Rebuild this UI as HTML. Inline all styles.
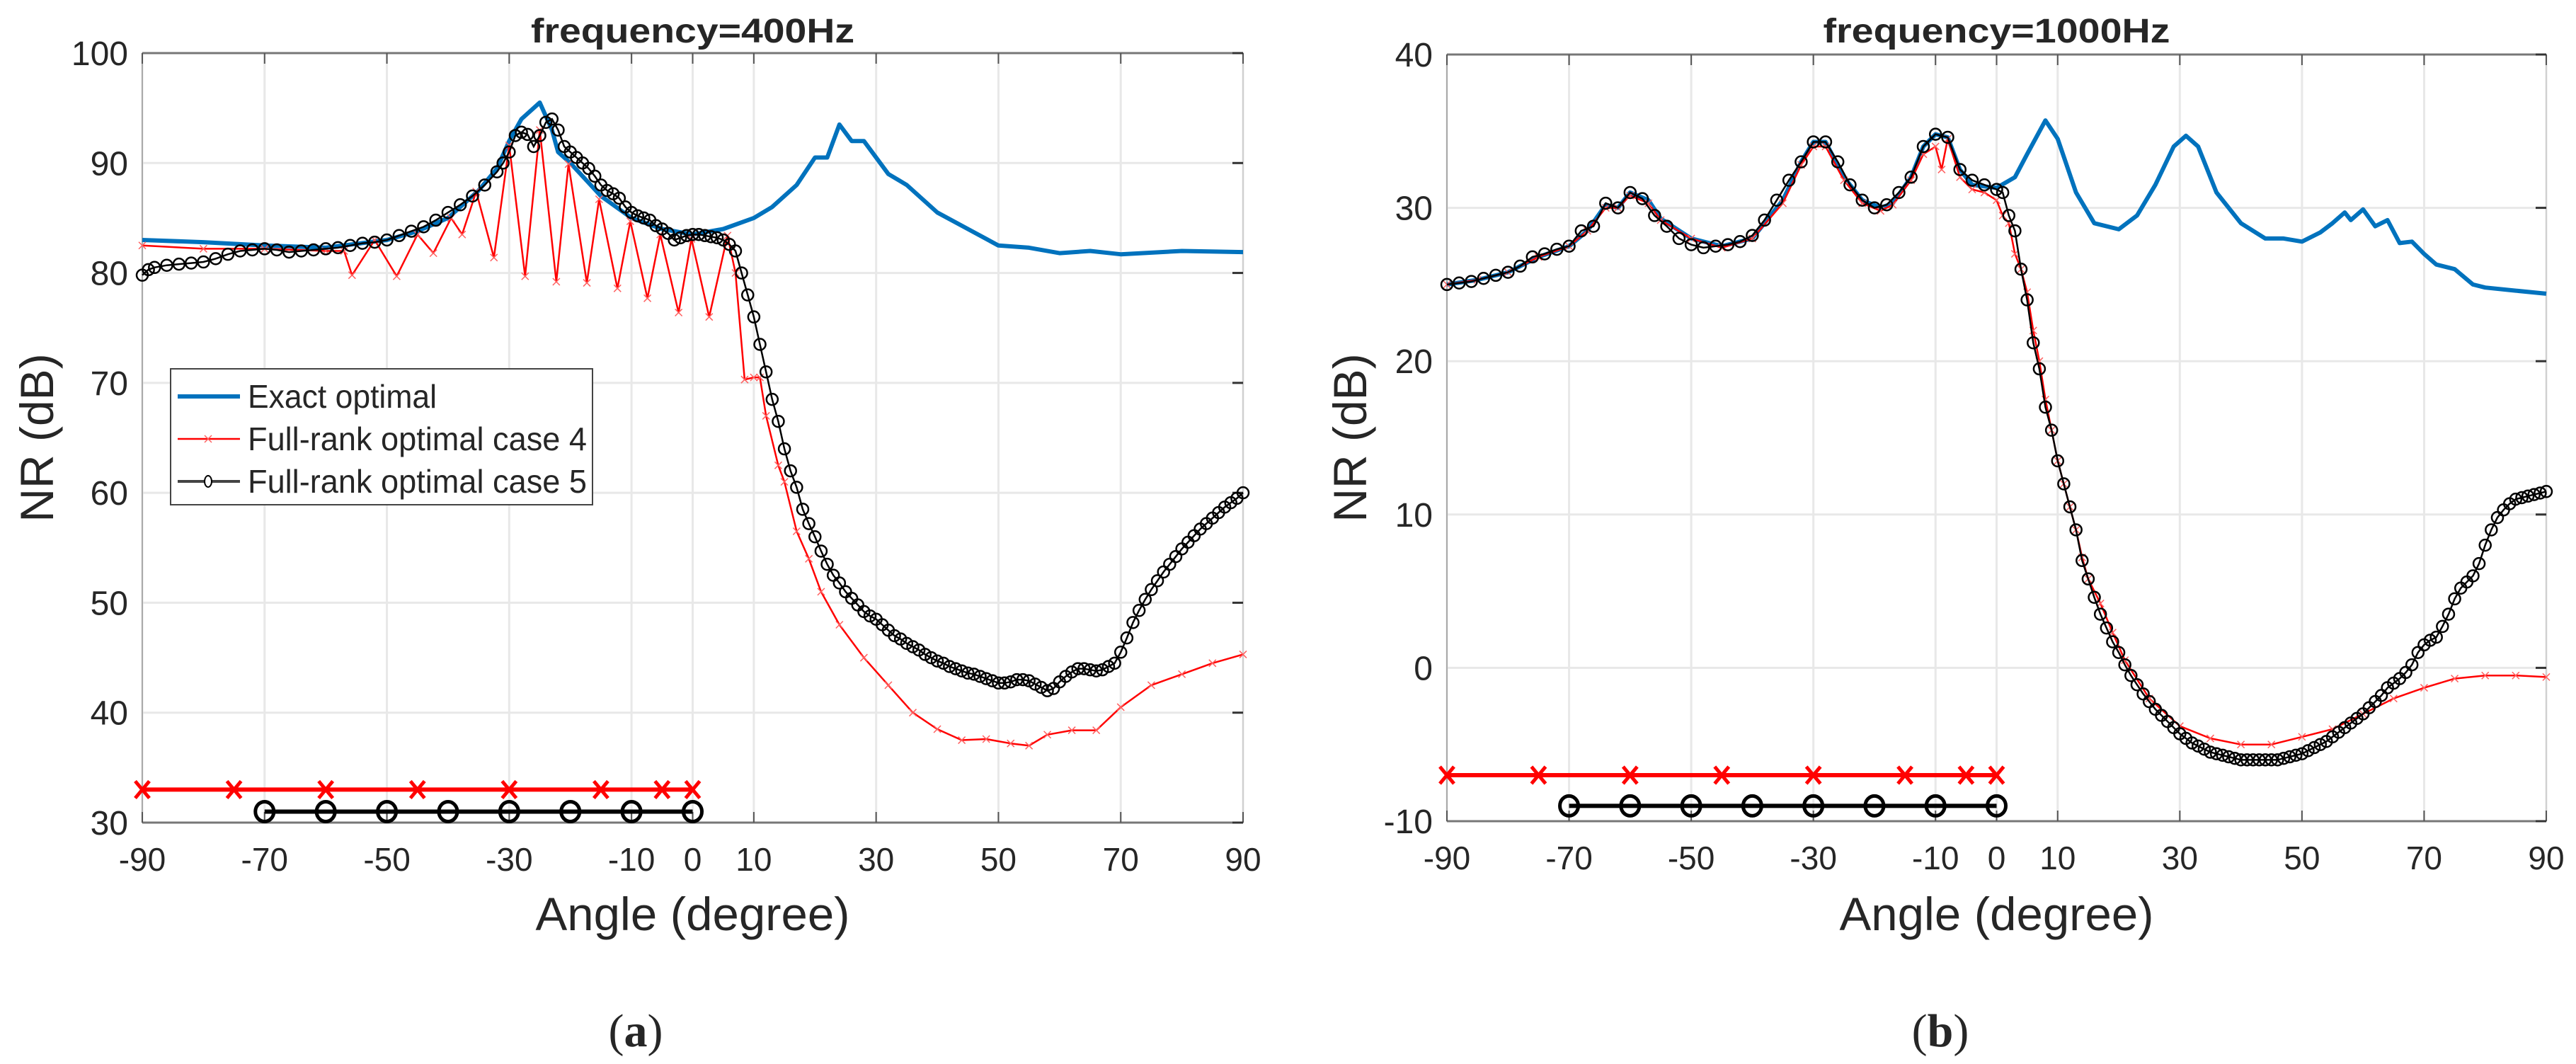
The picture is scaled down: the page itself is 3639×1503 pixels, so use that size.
<!DOCTYPE html>
<html><head><meta charset="utf-8">
<style>
html,body{margin:0;padding:0;background:#fff;}
svg{display:block;}
text{font-family:"Liberation Sans",Arial,sans-serif;fill:#262626;}
</style></head>
<body>
<svg id="fig" width="3639" height="1503" viewBox="0 0 3639 1503" xmlns="http://www.w3.org/2000/svg"></svg>
<script>
const xTicks = [-90,-70,-50,-30,-10,0,10,30,50,70,90];
const yTicksA = [30,40,50,60,70,80,90,100];
const yTicksB = [-10,0,10,20,30,40];

const blueA_x = [-90,-80,-70,-60,-50,-45,-40,-35,-32,-30,-28,-25,-23,-22,-20,-15,-10,-5,0,5,10,13,17,20,22,24,26,28,32,35,40,45,50,55,60,65,70,80,90];
const blueA_y = [83,82.8,82.5,82.3,83,83.8,85,87.5,89.5,92,94,95.5,93,91,90,87,85,84,83.5,84,85,86,88,90.5,90.5,93.5,92,92,89,88,85.5,84,82.5,82.3,81.8,82,81.7,82,81.9];

const redA_x = [-90,-80,-70,-60,-57,-55.7,-52,-48.4,-45,-42.4,-39.5,-37.7,-35.4,-32.5,-30,-27.4,-25,-22.3,-20.3,-17.3,-15.3,-12.3,-10.2,-7.4,-5.3,-2.3,-0.2,2.7,5.7,7,8.5,10,11,12,14,15,17,19,21,24,28,32,36,40,44,48,52,55,58,62,66,70,75,80,85,90];
const redA_y = [82.5,82.2,82.2,82,82,79.8,83,79.7,83.5,81.8,85,83.5,87.4,81.4,91.6,79.7,93,79.2,89.9,79.1,86.7,78.6,84.7,77.7,83.5,76.4,83.1,76,83.4,80,70.3,70.5,70.5,67,62.5,61,56.5,54,51,48,45,42.5,40,38.5,37.5,37.6,37.2,37,38,38.4,38.4,40.5,42.5,43.5,44.5,45.3];

const blackA_x = [-90,-89,-88,-86,-84,-82,-80,-78,-76,-74,-72,-70,-68,-66,-64,-62,-60,-58,-56,-54,-52,-50,-48,-46,-44,-42,-40,-38,-36,-34,-32,-31,-30,-29,-28,-27,-26,-25,-24,-23,-22,-21,-20,-19,-18,-17,-16,-15,-14,-13,-12,-11,-10,-9,-8,-7,-6,-5,-4,-3,-2,-1,0,1,2,3,4,5,6,7,8,9,10,11,12,13,14,15,16,17,18,19,20,21,22,23,24,25,26,27,28,29,30,31,32,33,34,35,36,37,38,39,40,41,42,43,44,45,46,47,48,49,50,51,52,53,54,55,56,57,58,59,60,61,62,63,64,65,66,67,68,69,70,71,72,73,74,75,76,77,78,79,80,81,82,83,84,85,86,87,88,89,90];
const blackA_y = [79.8,80.3,80.5,80.7,80.8,80.9,81,81.3,81.7,82,82.1,82.2,82.1,81.9,82,82.1,82.2,82.3,82.5,82.7,82.8,83,83.4,83.8,84.2,84.8,85.5,86.2,87,88,89.2,90,91,92.5,92.8,92.6,91.5,92.5,93.7,94,93,91.5,91,90.5,90,89.5,88.8,88,87.5,87.2,86.8,86,85.5,85.2,85,84.8,84.3,84,83.6,83,83.2,83.4,83.5,83.5,83.4,83.3,83.2,83,82.6,82,80,78,76,73.5,71,68.5,66.5,64,62,60.5,58.5,57.2,56,54.7,53.5,52.5,51.8,51,50.4,49.8,49.2,48.8,48.5,48,47.5,47,46.7,46.3,46,45.7,45.3,45,44.7,44.5,44.2,44,43.8,43.6,43.5,43.3,43.1,42.9,42.7,42.7,42.8,43,43,42.9,42.6,42.3,42,42.2,42.8,43.3,43.7,44,44,43.9,43.8,43.9,44.2,44.5,45.5,46.8,48.2,49.3,50.3,51.2,52,52.8,53.5,54.2,54.9,55.5,56.1,56.7,57.2,57.7,58.2,58.7,59.1,59.5,60];

const blueB_x = [-90,-85,-80,-75,-70,-67,-64,-62,-60,-57,-55,-50,-45,-40,-35,-32,-30,-28,-25,-22,-19,-17,-14,-12,-10,-8,-6,-4,0,3,5,8,10,13,16,20,23,26,29,31,33,36,40,44,47,50,53,55,57,58,60,62,64,66,68,70,72,75,78,80,85,90];
const blueB_y = [25,25.3,25.8,26.8,27.5,28.5,30.2,30,31,30.5,29.3,28,27.5,28,30.5,33,34.3,34.3,32,30.5,30,30.3,32,34,34.8,34.6,32.5,31.5,31.3,32,33.5,35.7,34.5,31,29,28.6,29.5,31.5,34,34.7,34,31,29,28,28,27.8,28.4,29,29.7,29.2,29.9,28.8,29.2,27.7,27.8,27,26.3,26,25,24.8,24.6,24.4];

const redB_x = [-90,-85,-80,-75,-70,-67,-64,-62,-60,-57,-55,-50,-45,-40,-35,-32,-30,-28,-25,-22,-19,-17,-14,-12,-10,-9,-8,-6,-4,-2,0,1,2,3,4,5,6,7,8,9,10,11,12,13,14,15,17,19,21,25,30,35,40,45,50,55,60,65,70,75,80,85,90];
const redB_y = [25,25.3,25.8,26.8,27.5,28.5,30,30,30.8,30.3,29.2,28,27.4,28,30.3,32.8,34,34,31.8,30.3,29.8,30.2,31.8,33.5,34,32.5,34.5,32,31.2,31,30.5,29.5,29,27,26,24.5,22,20,17.5,15.5,13.5,12,10.5,9,7.2,5.8,4.2,2.3,0.5,-2,-3.8,-4.6,-5,-5,-4.5,-4,-3,-2,-1.3,-0.7,-0.5,-0.5,-0.6];

const blackB_x = [-90,-88,-86,-84,-82,-80,-78,-76,-74,-72,-70,-68,-66,-64,-62,-60,-58,-56,-54,-52,-50,-48,-46,-44,-42,-40,-38,-36,-34,-32,-30,-28,-26,-24,-22,-20,-18,-16,-14,-12,-10,-8,-6,-4,-2,0,1,2,3,4,5,6,7,8,9,10,11,12,13,14,15,16,17,18,19,20,21,22,23,24,25,26,27,28,29,30,31,32,33,34,35,36,37,38,39,40,41,42,43,44,45,46,47,48,49,50,51,52,53,54,55,56,57,58,59,60,61,62,63,64,65,66,67,68,69,70,71,72,73,74,75,76,77,78,79,80,81,82,83,84,85,86,87,88,89,90];
const blackB_y = [25,25.1,25.2,25.4,25.6,25.8,26.2,26.8,27,27.3,27.5,28.5,28.8,30.3,30,31,30.6,29.5,28.8,28,27.6,27.4,27.5,27.6,27.8,28.2,29.2,30.5,31.8,33,34.3,34.3,33,31.5,30.5,30,30.2,31,32,34,34.8,34.6,32.5,31.8,31.5,31.2,31,29.5,28.5,26,24,21.2,19.5,17,15.5,13.5,12,10.5,9,7,5.8,4.6,3.5,2.6,1.7,1,0.2,-0.5,-1.1,-1.7,-2.2,-2.7,-3.1,-3.5,-3.9,-4.3,-4.6,-4.9,-5.1,-5.3,-5.5,-5.6,-5.7,-5.8,-5.9,-6,-6,-6,-6,-6,-6,-6,-5.9,-5.8,-5.7,-5.6,-5.4,-5.2,-5,-4.8,-4.5,-4.2,-3.9,-3.6,-3.3,-3,-2.6,-2.2,-1.8,-1.3,-1,-0.7,-0.3,0.2,1,1.5,1.8,2,2.7,3.5,4.5,5.2,5.6,6,6.8,8,9,9.8,10.3,10.7,11,11.1,11.2,11.3,11.4,11.5,11.5,11.6];

const redRefA_x = [-90,-75,-60,-45,-30,-15,-5,0];
const blackRefA_x = [-70,-60,-50,-40,-30,-20,-10,0];
const redRefA_y = 33, blackRefA_y = 31;
const redRefB_y = -7, blackRefB_y = -9;

const svg = document.getElementById('fig');
const NS = 'http://www.w3.org/2000/svg';
function mk(tag, attrs, parent){
  const e = document.createElementNS(NS, tag);
  for (const k in attrs) e.setAttribute(k, attrs[k]);
  (parent||svg).appendChild(e);
  return e;
}

function chart(cfg){
  const g = mk('g', {});
  
  
  const X = v => cfg.x0 + (v+90)/180*(cfg.x1-cfg.x0);
  const Y = v => cfg.y1 - (v-cfg.ymin)/(cfg.ymax-cfg.ymin)*(cfg.y1-cfg.y0);
  xTicks.forEach(t=>{
    const l = mk('line',{x1:X(t),x2:X(t),y1:cfg.y0,y2:cfg.y1,stroke:'#e8e8e8','stroke-width':3},g);
    
    
  });
  cfg.yt.forEach(t=>{
    const l = mk('line',{x1:cfg.x0,x2:cfg.x1,y1:Y(t),y2:Y(t),stroke:'#e8e8e8','stroke-width':3},g);
    
    
  });
  const box = mk('rect',{x:cfg.x0,y:cfg.y0,width:cfg.x1-cfg.x0,height:cfg.y1-cfg.y0,fill:'none',stroke:'#d0d0d0','stroke-width':2},g);
  
  
  const ax = mk('line',{x1:cfg.x0,x2:cfg.x1,y1:cfg.y1,y2:cfg.y1,stroke:'#777','stroke-width':3},g);
  
  
  const at = mk('line',{x1:cfg.x0,x2:cfg.x1,y1:cfg.y0,y2:cfg.y0,stroke:'#777','stroke-width':3},g);
  
  
  const ay = mk('line',{x1:cfg.x0,x2:cfg.x0,y1:cfg.y0,y2:cfg.y1,stroke:'#aaa','stroke-width':2},g);
  
  
  xTicks.forEach(t=>{
    mk('line',{x1:X(t),x2:X(t),y1:cfg.y1,y2:cfg.y1-15,stroke:'#555','stroke-width':2},g);
    mk('line',{x1:X(t),x2:X(t),y1:cfg.y0,y2:cfg.y0+15,stroke:'#555','stroke-width':2},g);
    const tx = mk('text',{x:X(t),y:cfg.y1+68,'font-size':46,'text-anchor':'middle'},g);
    tx.textContent = String(t);
    
    
  });
  cfg.yt.forEach(t=>{
    mk('line',{x1:cfg.x1,x2:cfg.x1-15,y1:Y(t),y2:Y(t),stroke:'#333','stroke-width':3},g);
    const tx = mk('text',{x:cfg.x0-20,y:Y(t)+17,'font-size':48,'text-anchor':'end'},g);
    tx.textContent = String(t);
    
    
  });
  const cx = (cfg.x0+cfg.x1)/2;
  const title = mk('text',{x:cx,y:60,'font-size':48,'font-weight':'bold','text-anchor':'middle',fill:'#000',textLength:cfg.titleLen,lengthAdjust:'spacingAndGlyphs'},g);
  title.textContent = cfg.title;
  
  
  const xl = mk('text',{x:cx,y:1314,'font-size':66,'text-anchor':'middle',textLength:444,lengthAdjust:'spacingAndGlyphs'},g);
  xl.textContent = 'Angle (degree)';
  
  
  const yl = mk('text',{x:0,y:0,'font-size':66,'text-anchor':'middle',transform:`translate(${cfg.ylx},${(cfg.y0+cfg.y1)/2}) rotate(-90)`},g);
  yl.textContent = 'NR (dB)';
  
  
  const sub = mk('text',{x:cfg.subx,y:1478,'font-size':66,'text-anchor':'middle',style:'font-family:"Liberation Serif",serif',fill:'#000'},g);
  sub.innerHTML = '(<tspan font-weight="bold">'+cfg.sub+'</tspan>)';
  
  

  const pts = (xs,ys)=>xs.map((v,i)=>X(v).toFixed(1)+','+Y(ys[i]).toFixed(1)).join(' ');
  const bl = mk('polyline',{points:pts(cfg.bx,cfg.by),fill:'none',stroke:'#0072bd','stroke-width':6,'stroke-linejoin':'round'},g);
  
  
  const rl = mk('polyline',{points:pts(cfg.rx,cfg.ry),fill:'none',stroke:'#ff0000','stroke-width':2.5,'stroke-linejoin':'round'},g);
  
  
  cfg.rx.forEach((v,i)=>{
    const px=X(v), py=Y(cfg.ry[i]);
    const m = mk('path',{d:`M${px-5},${py-5}L${px+5},${py+5}M${px-5},${py+5}L${px+5},${py-5}`,stroke:'#ff6060','stroke-width':1.5},g);
    
    
  });
  const kl = mk('polyline',{points:pts(cfg.kx,cfg.ky),fill:'none',stroke:'#000','stroke-width':2.5},g);
  
  
  cfg.kx.forEach((v,i)=>{
    const c = mk('ellipse',{cx:X(v),cy:Y(cfg.ky[i]),rx:8,ry:8,fill:'none',stroke:'#000','stroke-width':2.5},g);
    
    
  });
  const rr = mk('line',{x1:X(redRefA_x[0]),x2:X(redRefA_x[redRefA_x.length-1]),y1:Y(cfg.rry),y2:Y(cfg.rry),stroke:'#ff0000','stroke-width':6},g);
  
  
  redRefA_x.forEach(v=>{
    const px=X(v), py=Y(cfg.rry);
    const m = mk('path',{d:`M${px-10},${py-12}L${px+10},${py+12}M${px-10},${py+12}L${px+10},${py-12}`,stroke:'#ff0000','stroke-width':5},g);
    
    
  });
  const kr = mk('line',{x1:X(blackRefA_x[0]),x2:X(blackRefA_x[blackRefA_x.length-1]),y1:Y(cfg.kry),y2:Y(cfg.kry),stroke:'#000','stroke-width':6},g);
  
  
  blackRefA_x.forEach(v=>{
    const c = mk('ellipse',{cx:X(v),cy:Y(cfg.kry),rx:13,ry:14,fill:'none',stroke:'#000','stroke-width':5},g);
    
    
  });
  return g;
}

chart({name:'chart-400hz',x0:201,x1:1756,y0:75,y1:1162,ymin:30,ymax:100,yt:yTicksA,title:'frequency=400Hz',titleLen:457,ylx:75,sub:'a',subx:898,
  bx:blueA_x,by:blueA_y,rx:redA_x,ry:redA_y,kx:blackA_x,ky:blackA_y,rry:redRefA_y,kry:blackRefA_y});
chart({name:'chart-1000hz',x0:2044,x1:3597,y0:77,y1:1160,ymin:-10,ymax:40,yt:yTicksB,title:'frequency=1000Hz',titleLen:490,ylx:1930,sub:'b',subx:2741,
  bx:blueB_x,by:blueB_y,rx:redB_x,ry:redB_y,kx:blackB_x,ky:blackB_y,rry:redRefB_y,kry:blackRefB_y});

const lg = mk('g',{});


mk('rect',{x:241,y:521,width:596,height:192,fill:'#fff',stroke:'#444','stroke-width':2},lg);
const labels = ['Exact optimal','Full-rank optimal case 4','Full-rank optimal case 5'];
const lens = [267,479,479];
const rowsY = [560,620,680];
mk('line',{x1:251,x2:339,y1:rowsY[0],y2:rowsY[0],stroke:'#0072bd','stroke-width':6},lg);
mk('line',{x1:251,x2:339,y1:rowsY[1],y2:rowsY[1],stroke:'#ff0000','stroke-width':2.5},lg);
mk('path',{d:`M289,${rowsY[1]-5}L299,${rowsY[1]+5}M289,${rowsY[1]+5}L299,${rowsY[1]-5}`,stroke:'#ff6060','stroke-width':1.5},lg);
mk('line',{x1:251,x2:339,y1:rowsY[2],y2:rowsY[2],stroke:'#444','stroke-width':4},lg);
mk('ellipse',{cx:294,cy:rowsY[2],rx:5,ry:8,fill:'#fff',stroke:'#000','stroke-width':2},lg);
labels.forEach((t,i)=>{
  const tx = mk('text',{x:350,y:rowsY[i]+16,'font-size':46,fill:'#000',textLength:lens[i],lengthAdjust:'spacingAndGlyphs'},lg);
  tx.textContent = t;
  
  
});
</script>
</body></html>
